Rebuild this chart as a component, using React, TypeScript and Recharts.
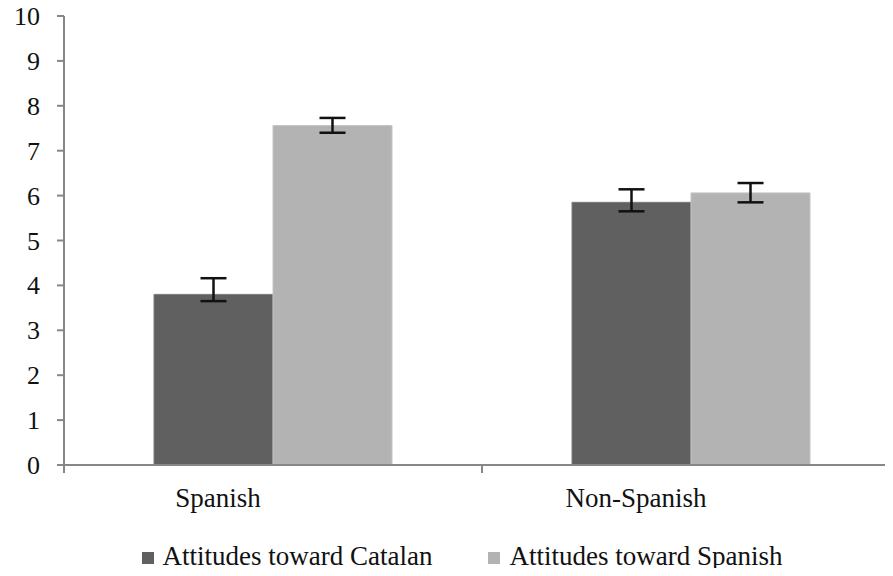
import { BarChart, Bar, XAxis, YAxis, ErrorBar, Legend } from "recharts";

const groups = ["Spanish", "Non-Spanish"];
const catalanMeans = [3.8, 5.85];
const spanishMeans = [7.56, 6.06];
// [below, above] error extents
const catalanErr = [
  [0.15, 0.36],
  [0.2, 0.29],
];
const spanishErr = [
  [0.16, 0.17],
  [0.21, 0.22],
];
const yTicks = [0, 1, 2, 3, 4, 5, 6, 7, 8, 9, 10];

const data = groups.map((g, i) => ({
  group: g,
  catalan: catalanMeans[i],
  spanish: spanishMeans[i],
  catalanErr: catalanErr[i],
  spanishErr: spanishErr[i],
}));

const W = 900;
const H = 576;
const AXIS_W = 64;
const BAND = (W - AXIS_W) / groups.length;
const FONT = "Liberation Serif";
const AXIS_COLOR = "#878787";
const DARK = "#606060";
const LIGHT = "#b3b3b3";

const css = `
.chart-root, .chart-root * , .chart-root text, .chart-root tspan {
  font-family: 'Liberation Serif', 'Times New Roman', serif !important;
}
`;

function CategoryTick(props: any) {
  const { x, y, payload, index } = props;
  const axisY = y - 8;
  return (
    <g>
      {index === 0 && (
        <>
          <line x1={x - BAND / 2} y1={axisY} x2={x - BAND / 2} y2={axisY + 8} stroke={AXIS_COLOR} strokeWidth={2} />
          <line x1={x + BAND / 2} y1={axisY} x2={x + BAND / 2} y2={axisY + 8} stroke={AXIS_COLOR} strokeWidth={2} />
        </>
      )}
      <text
        x={x - 55}
        y={axisY + 42}
        textAnchor="middle"
        fontFamily={FONT}
        fontSize={27}
        fill="#111"
      >
        {payload.value}
      </text>
    </g>
  );
}

function YTick(props: any) {
  const { x, y, payload } = props;
  return (
    <text x={x} y={y} dy={9} textAnchor="end" fontFamily={FONT} fontSize={26} fill="#111">
      {payload.value}
    </text>
  );
}

function LegendContent() {
  const items = [
    { label: "Attitudes toward Catalan", color: DARK },
    { label: "Attitudes toward Spanish", color: LIGHT },
  ];
  return (
    <div
      style={{
        display: "flex",
        justifyContent: "center",
        fontFamily: FONT,
        fontSize: 27,
        lineHeight: "30px",
        color: "#111",
        paddingLeft: 24,
        paddingTop: 14,
      }}
    >
      {items.map((it, i) => (
        <div
          key={it.label}
          style={{ display: "flex", alignItems: "center", marginLeft: i ? 56 : 0 }}
        >
          <span
            style={{
              display: "inline-block",
              width: 12,
              height: 12,
              background: it.color,
              marginRight: 9,
              marginTop: 3,
            }}
          />
          <span>{it.label}</span>
        </div>
      ))}
    </div>
  );
}

export default function App() {
  return (
    <div className="chart-root" style={{ margin: -8, width: 893, height: H, overflow: "hidden", fontFamily: FONT }}>
      <style>{css}</style>
      <BarChart
        width={W}
        height={H}
        data={data}
        barSize={119}
        barGap={0}
        margin={{ top: 16, right: 0, left: 0, bottom: 0 }}
      >
        <YAxis
          width={AXIS_W}
          domain={[0, 10]}
          ticks={yTicks}
          interval={0}
          tickSize={7}
          tickMargin={17}
          stroke={AXIS_COLOR}
          strokeWidth={2}
          tick={<YTick />}
        />
        <XAxis
          dataKey="group"
          height={62}
          tickLine={false}
          stroke={AXIS_COLOR}
          strokeWidth={2}
          tick={<CategoryTick />}
          interval={0}
        />
        <Legend verticalAlign="bottom" height={49} content={<LegendContent />} />
        <Bar dataKey="catalan" fill={DARK} stroke="#7a7a7a" strokeWidth={1} isAnimationActive={false}>
          <ErrorBar dataKey="catalanErr" width={13} strokeWidth={2.5} stroke="#111" direction="y" />
        </Bar>
        <Bar dataKey="spanish" fill={LIGHT} stroke="#c4c4c4" strokeWidth={1} isAnimationActive={false}>
          <ErrorBar dataKey="spanishErr" width={13} strokeWidth={2.5} stroke="#111" direction="y" />
        </Bar>
      </BarChart>
    </div>
  );
}
